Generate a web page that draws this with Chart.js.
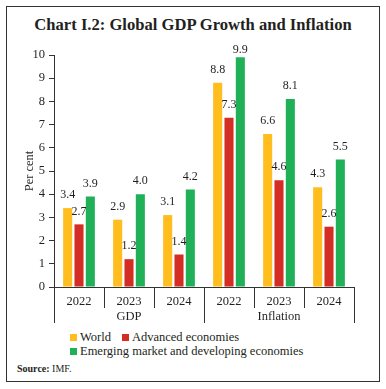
<!DOCTYPE html>
<html>
<head>
<meta charset="utf-8">
<script src="https://cdn.jsdelivr.net/npm/chart.js@4"></script>
<style>
  html, body { margin: 0; padding: 0; background: #fff; }
  #wrap { position: relative; width: 386px; height: 389px; overflow: hidden; font-family: "Liberation Serif", serif; color: #231f20; }
  #frame { position: absolute; left: 6px; top: 6px; width: 372px; height: 374px; border: 1.5px solid #333; }
  #title { position: absolute; left: 0; width: 386px; top: 15px; text-align: center; font-weight: bold; font-size: 16.6px; }
  #chartBox { position: absolute; left: 0; top: 0; width: 386px; height: 330px; }
  #legend { position: absolute; left: 70px; top: 331px; font-size: 12.5px; line-height: 13.5px; }
  .row { white-space: nowrap; }
  .item { display: inline-block; margin-right: 11px; }
  .sw { display: inline-block; width: 7px; height: 7px; margin-right: 3px; }
  #source { position: absolute; left: 17px; top: 363px; font-size: 10px; }
</style>
</head>
<body>
<div id="wrap">
  <div id="frame"></div>
  <div id="title">Chart I.2: Global GDP Growth and Inflation</div>
  <div id="chartBox"><canvas id="c"></canvas></div>
  <div id="legend"></div>
  <div id="source"><b>Source:</b> IMF.</div>
</div>
<script>
const years = ["2022", "2023", "2024", "2022", "2023", "2024"];
const groups = ["GDP", "Inflation"];
const world = [3.4, 2.9, 3.1, 8.8, 6.6, 4.3];
const advanced = [2.7, 1.2, 1.4, 7.3, 4.6, 2.6];
const emerging = [3.9, 4.0, 4.2, 9.9, 8.1, 5.5];
const seriesNames = ["World", "Advanced economies", "Emerging market and developing economies"];
const colors = ["#FFBE1E", "#D42E24", "#20B158"];

const serif = "'Liberation Serif', serif";
const ink = "#231f20";

// value labels above each bar (kept just inside the top of the plot)
const barLabels = {
    id: "barLabels",
    afterDatasetsDraw(chart) {
        const ctx = chart.ctx;
        const top = chart.chartArea.top;
        ctx.save();
        ctx.font = "12px " + serif;
        ctx.fillStyle = ink;
        ctx.textAlign = "center";
        ctx.textBaseline = "middle";
        chart.data.datasets.forEach((ds, i) => {
            chart.getDatasetMeta(i).data.forEach((bar, j) => {
                const y = Math.max(bar.y - 13, top - 5);
                ctx.fillText(ds.data[j].toFixed(1), bar.x, y);
            });
        });
        ctx.restore();
    }
};

// separators and group names under the x axis
const groupAxis = {
    id: "groupAxis",
    afterDraw(chart) {
        const x = chart.scales.x;
        const ctx = chart.ctx;
        const half = (x.getPixelForValue(1) - x.getPixelForValue(0)) / 2;
        const base = chart.chartArea.bottom;
        const per = years.length / groups.length;
        ctx.save();
        ctx.strokeStyle = "#333";
        ctx.lineWidth = 1;
        for (let i = 0; i <= years.length; i++) {
            const px = Math.round(x.getPixelForValue(i) - half) + 0.5;
            const len = i % per === 0 ? 36 : 21;
            ctx.beginPath();
            ctx.moveTo(px, base);
            ctx.lineTo(px, base + len);
            ctx.stroke();
        }
        ctx.font = "12.5px " + serif;
        ctx.fillStyle = ink;
        ctx.textAlign = "center";
        ctx.textBaseline = "middle";
        groups.forEach((g, k) => {
            const mid = x.getPixelForValue(k * per + (per - 1) / 2);
            ctx.fillText(g, mid, base + 30);
        });
        ctx.restore();
    }
};

new Chart(document.getElementById("c"), {
    type: "bar",
    data: {
        labels: years,
        datasets: [world, advanced, emerging].map((d, i) => ({
            label: seriesNames[i],
            data: d,
            backgroundColor: colors[i],
            categoryPercentage: 0.68,
            barPercentage: 0.8
        }))
    },
    options: {
        responsive: true,
        maintainAspectRatio: false,
        animation: false,
        layout: { padding: { left: 0, right: 32, top: 55, bottom: 0 } },
        plugins: {
            legend: { display: false },
            tooltip: { enabled: false }
        },
        scales: {
            x: {
                grid: { display: false, drawTicks: false },
                border: { display: true, color: "#333", width: 1 },
                ticks: { font: { family: serif, size: 12.5 }, color: ink, padding: 7 },
                afterFit(scale) { scale.height = 43; }
            },
            y: {
                min: 0,
                max: 10,
                ticks: { stepSize: 1, font: { family: serif, size: 12.5 }, color: ink, padding: 4 },
                grid: { drawOnChartArea: false, drawTicks: true, tickLength: 5, color: "#333" },
                border: { display: true, color: "#333", width: 1 },
                title: { display: true, text: "Per cent", font: { family: serif, size: 12.5 }, color: ink, padding: { top: 22, bottom: 0 } },
                afterFit(scale) { scale.width = 54; }
            }
        }
    },
    plugins: [barLabels, groupAxis]
});

// legend in two rows like the original
const legend = document.getElementById("legend");
[[0, 1], [2]].forEach(row => {
    const r = document.createElement("div");
    r.className = "row";
    row.forEach(i => {
        const it = document.createElement("span");
        it.className = "item";
        it.innerHTML = '<span class="sw" style="background:' + colors[i] + '"></span>' + seriesNames[i];
        r.appendChild(it);
    });
    legend.appendChild(r);
});
</script>
</body>
</html>
